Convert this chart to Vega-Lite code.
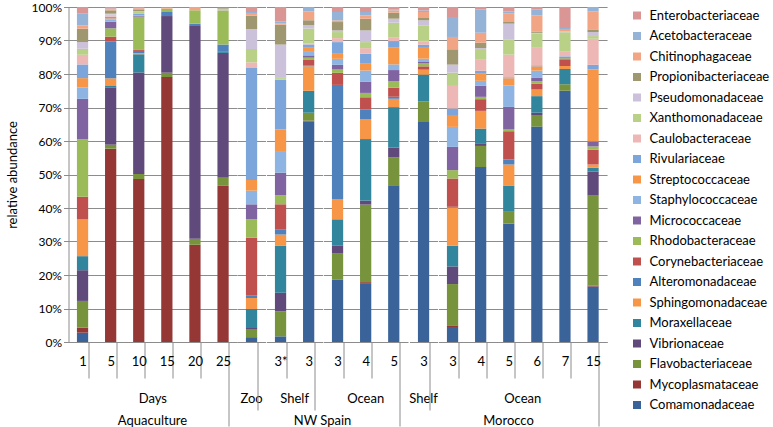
{
  "$schema": "https://vega.github.io/schema/vega-lite/v6.json",
  "background": "white",
  "padding": {"left": 6.5, "top": 1, "right": 0, "bottom": 0},
  "config": {
    "font": "Lato",
    "view": {"stroke": null},
    "concat": {"spacing": 0},
    "facet": {"spacing": 0},
    "axis": {"labelFont": "Lato", "labelColor": "#000", "titleFont": "Lato", "titleColor": "#000", "titleFontWeight": "normal", "domainColor": "#8c8c8c", "tickColor": "#8c8c8c", "gridColor": "#8c8c8c", "gridOpacity": 1},
    "header": {"labelFont": "Lato", "labelFontSize": 13, "labelColor": "#000", "titleFont": "Lato", "titleFontSize": 13, "titleFontWeight": "normal", "titleColor": "#000", "labelOrient": "bottom", "titleOrient": "bottom", "labelPadding": 51, "titlePadding": -1},
    "legend": {"labelFont": "Lato", "labelFontSize": 13, "labelColor": "#000", "symbolType": "square", "symbolSize": 64, "symbolStrokeWidth": 0, "rowPadding": 6.5, "padding": 2, "offset": 21, "labelOffset": 6}
  },
  "data": {"values": [
    {"r":"Aquaculture","g":"Days","id":"A|Days|1","Comamonadaceae":2.8,"Mycoplasmataceae":1.5,"Flavobacteriaceae":8,"Vibrionaceae":9.2,"Moraxellaceae":4.2,"Sphingomonadaceae":11,"Alteromonadaceae":0,"Corynebacteriaceae":6.8,"Rhodobacteraceae":17.2,"Micrococcaceae":12.1,"Staphylococcaceae":3.4,"Streptococcaceae":2.8,"Rivulariaceae":4.1,"Caulobacteraceae":2.9,"Xanthomonadaceae":1.8,"Pseudomonadaceae":2,"Propionibacteriaceae":4,"Chitinophagaceae":1,"Acetobacteraceae":3.5,"Enterobacteriaceae":2},
    {"r":"Aquaculture","g":"Days","id":"A|Days|5","Comamonadaceae":0,"Mycoplasmataceae":58,"Flavobacteriaceae":1.2,"Vibrionaceae":17.2,"Moraxellaceae":0.4,"Sphingomonadaceae":2.3,"Alteromonadaceae":11,"Corynebacteriaceae":1.5,"Rhodobacteraceae":2.5,"Micrococcaceae":2,"Staphylococcaceae":0.7,"Streptococcaceae":0.3,"Rivulariaceae":0.5,"Caulobacteraceae":0.3,"Xanthomonadaceae":0.3,"Pseudomonadaceae":0.3,"Propionibacteriaceae":1,"Chitinophagaceae":0.3,"Acetobacteraceae":0.2,"Enterobacteriaceae":0.5},
    {"r":"Aquaculture","g":"Days","id":"A|Days|10","Comamonadaceae":0,"Mycoplasmataceae":49,"Flavobacteriaceae":1.5,"Vibrionaceae":30.5,"Moraxellaceae":5.5,"Sphingomonadaceae":0.3,"Alteromonadaceae":0.7,"Corynebacteriaceae":0.3,"Rhodobacteraceae":10,"Micrococcaceae":0.3,"Staphylococcaceae":0.2,"Streptococcaceae":0,"Rivulariaceae":0.3,"Caulobacteraceae":0.3,"Xanthomonadaceae":0.3,"Pseudomonadaceae":0.3,"Propionibacteriaceae":0.5,"Chitinophagaceae":0.3,"Acetobacteraceae":0,"Enterobacteriaceae":0.4},
    {"r":"Aquaculture","g":"Days","id":"A|Days|15","Comamonadaceae":0,"Mycoplasmataceae":79.1,"Flavobacteriaceae":1.3,"Vibrionaceae":16.9,"Moraxellaceae":0,"Sphingomonadaceae":0,"Alteromonadaceae":1.2,"Corynebacteriaceae":0,"Rhodobacteraceae":1,"Micrococcaceae":0,"Staphylococcaceae":0,"Streptococcaceae":0,"Rivulariaceae":0,"Caulobacteraceae":0,"Xanthomonadaceae":0,"Pseudomonadaceae":0,"Propionibacteriaceae":0,"Chitinophagaceae":0.3,"Acetobacteraceae":0,"Enterobacteriaceae":0.2},
    {"r":"Aquaculture","g":"Days","id":"A|Days|20","Comamonadaceae":0,"Mycoplasmataceae":29,"Flavobacteriaceae":1.8,"Vibrionaceae":63.5,"Moraxellaceae":0,"Sphingomonadaceae":0,"Alteromonadaceae":0.7,"Corynebacteriaceae":0,"Rhodobacteraceae":4,"Micrococcaceae":0,"Staphylococcaceae":0,"Streptococcaceae":0,"Rivulariaceae":0,"Caulobacteraceae":0,"Xanthomonadaceae":0,"Pseudomonadaceae":0,"Propionibacteriaceae":0,"Chitinophagaceae":1,"Acetobacteraceae":0,"Enterobacteriaceae":0},
    {"r":"Aquaculture","g":"Days","id":"A|Days|25","Comamonadaceae":0,"Mycoplasmataceae":46.6,"Flavobacteriaceae":2.4,"Vibrionaceae":37.3,"Moraxellaceae":0.5,"Sphingomonadaceae":0,"Alteromonadaceae":2,"Corynebacteriaceae":0,"Rhodobacteraceae":10.2,"Micrococcaceae":0,"Staphylococcaceae":0,"Streptococcaceae":0,"Rivulariaceae":0,"Caulobacteraceae":0,"Xanthomonadaceae":0,"Pseudomonadaceae":0.5,"Propionibacteriaceae":0.5,"Chitinophagaceae":0,"Acetobacteraceae":0,"Enterobacteriaceae":0},
    {"r":"NW Spain","g":"Zoo","id":"N|Zoo|","Comamonadaceae":1.3,"Mycoplasmataceae":0.2,"Flavobacteriaceae":2.2,"Vibrionaceae":0.5,"Moraxellaceae":5.7,"Sphingomonadaceae":3.3,"Alteromonadaceae":0.7,"Corynebacteriaceae":17.4,"Rhodobacteraceae":5.5,"Micrococcaceae":4.5,"Staphylococcaceae":4.1,"Streptococcaceae":3.2,"Rivulariaceae":33.6,"Caulobacteraceae":1.7,"Xanthomonadaceae":4,"Pseudomonadaceae":6,"Propionibacteriaceae":4,"Chitinophagaceae":0.8,"Acetobacteraceae":0.3,"Enterobacteriaceae":1.5},
    {"r":"NW Spain","g":"Shelf","id":"N|Shelf|3*","Comamonadaceae":1.7,"Mycoplasmataceae":0,"Flavobacteriaceae":7.5,"Vibrionaceae":5.6,"Moraxellaceae":14.1,"Sphingomonadaceae":3.4,"Alteromonadaceae":1.6,"Corynebacteriaceae":7.5,"Rhodobacteraceae":2.7,"Micrococcaceae":6.8,"Staphylococcaceae":6.5,"Streptococcaceae":6.5,"Rivulariaceae":14.9,"Caulobacteraceae":0.3,"Xanthomonadaceae":0.5,"Pseudomonadaceae":9.8,"Propionibacteriaceae":6,"Chitinophagaceae":0.3,"Acetobacteraceae":0.7,"Enterobacteriaceae":4.3},
    {"r":"NW Spain","g":"Shelf","id":"N|Shelf|3","Comamonadaceae":66.5,"Mycoplasmataceae":0.3,"Flavobacteriaceae":2.4,"Vibrionaceae":0,"Moraxellaceae":6.6,"Sphingomonadaceae":7.4,"Alteromonadaceae":0.3,"Corynebacteriaceae":1.6,"Rhodobacteraceae":0.7,"Micrococcaceae":0.7,"Staphylococcaceae":1.3,"Streptococcaceae":1.2,"Rivulariaceae":0.8,"Caulobacteraceae":0.3,"Xanthomonadaceae":4.5,"Pseudomonadaceae":1,"Propionibacteriaceae":1.5,"Chitinophagaceae":2.7,"Acetobacteraceae":1,"Enterobacteriaceae":0.3},
    {"r":"NW Spain","g":"Ocean","id":"N|Ocean|3","Comamonadaceae":18.6,"Mycoplasmataceae":0,"Flavobacteriaceae":8,"Vibrionaceae":2.3,"Moraxellaceae":7.8,"Sphingomonadaceae":5.9,"Alteromonadaceae":34.3,"Corynebacteriaceae":3.6,"Rhodobacteraceae":1,"Micrococcaceae":1.4,"Staphylococcaceae":1.8,"Streptococcaceae":1.5,"Rivulariaceae":3.5,"Caulobacteraceae":1.2,"Xanthomonadaceae":1.8,"Pseudomonadaceae":0.5,"Propionibacteriaceae":2.5,"Chitinophagaceae":0.5,"Acetobacteraceae":2.5,"Enterobacteriaceae":1.5},
    {"r":"NW Spain","g":"Ocean","id":"N|Ocean|4","Comamonadaceae":17.6,"Mycoplasmataceae":0.3,"Flavobacteriaceae":23.2,"Vibrionaceae":1.2,"Moraxellaceae":18.4,"Sphingomonadaceae":6,"Alteromonadaceae":2.8,"Corynebacteriaceae":3.7,"Rhodobacteraceae":1.3,"Micrococcaceae":3.4,"Staphylococcaceae":3.3,"Streptococcaceae":2.2,"Rivulariaceae":2.8,"Caulobacteraceae":1.7,"Xanthomonadaceae":1.8,"Pseudomonadaceae":3.5,"Propionibacteriaceae":3.5,"Chitinophagaceae":1,"Acetobacteraceae":1,"Enterobacteriaceae":1.5},
    {"r":"NW Spain","g":"Ocean","id":"N|Ocean|5","Comamonadaceae":47,"Mycoplasmataceae":0,"Flavobacteriaceae":8.3,"Vibrionaceae":3,"Moraxellaceae":12.1,"Sphingomonadaceae":2.5,"Alteromonadaceae":0.6,"Corynebacteriaceae":2.7,"Rhodobacteraceae":2,"Micrococcaceae":3.3,"Staphylococcaceae":1.7,"Streptococcaceae":5,"Rivulariaceae":2,"Caulobacteraceae":1,"Xanthomonadaceae":4.5,"Pseudomonadaceae":1.2,"Propionibacteriaceae":1.8,"Chitinophagaceae":0.7,"Acetobacteraceae":0.2,"Enterobacteriaceae":0.8},
    {"r":"Morocco","g":"Shelf","id":"M|Shelf|3","Comamonadaceae":66,"Mycoplasmataceae":0,"Flavobacteriaceae":6.2,"Vibrionaceae":0,"Moraxellaceae":8,"Sphingomonadaceae":1.5,"Alteromonadaceae":0,"Corynebacteriaceae":1,"Rhodobacteraceae":1,"Micrococcaceae":0.3,"Staphylococcaceae":1,"Streptococcaceae":3.5,"Rivulariaceae":0.7,"Caulobacteraceae":1,"Xanthomonadaceae":4.8,"Pseudomonadaceae":1.5,"Propionibacteriaceae":0.7,"Chitinophagaceae":1.8,"Acetobacteraceae":0.5,"Enterobacteriaceae":1},
    {"r":"Morocco","g":"Ocean","id":"M|Ocean|3","Comamonadaceae":4.5,"Mycoplasmataceae":0.5,"Flavobacteriaceae":12.4,"Vibrionaceae":5.3,"Moraxellaceae":6.2,"Sphingomonadaceae":11.4,"Alteromonadaceae":0.3,"Corynebacteriaceae":8.5,"Rhodobacteraceae":2.5,"Micrococcaceae":7,"Staphylococcaceae":6,"Streptococcaceae":3.3,"Rivulariaceae":2.2,"Caulobacteraceae":6.8,"Xanthomonadaceae":4,"Pseudomonadaceae":2.4,"Propionibacteriaceae":4.6,"Chitinophagaceae":3.7,"Acetobacteraceae":6,"Enterobacteriaceae":3},
    {"r":"Morocco","g":"Ocean","id":"M|Ocean|4","Comamonadaceae":52.4,"Mycoplasmataceae":0,"Flavobacteriaceae":6.3,"Vibrionaceae":0.8,"Moraxellaceae":4.4,"Sphingomonadaceae":5.3,"Alteromonadaceae":0,"Corynebacteriaceae":3.5,"Rhodobacteraceae":0.7,"Micrococcaceae":3.3,"Staphylococcaceae":1.5,"Streptococcaceae":2.3,"Rivulariaceae":0.7,"Caulobacteraceae":3.5,"Xanthomonadaceae":3,"Pseudomonadaceae":0.3,"Propionibacteriaceae":1.6,"Chitinophagaceae":3,"Acetobacteraceae":7,"Enterobacteriaceae":0.7},
    {"r":"Morocco","g":"Ocean","id":"M|Ocean|5","Comamonadaceae":35.6,"Mycoplasmataceae":0,"Flavobacteriaceae":3.5,"Vibrionaceae":0,"Moraxellaceae":7.9,"Sphingomonadaceae":6.3,"Alteromonadaceae":1.5,"Corynebacteriaceae":8.5,"Rhodobacteraceae":0.5,"Micrococcaceae":6.8,"Staphylococcaceae":6.4,"Streptococcaceae":2.2,"Rivulariaceae":0.3,"Caulobacteraceae":6.8,"Xanthomonadaceae":4.6,"Pseudomonadaceae":4.7,"Propionibacteriaceae":0.5,"Chitinophagaceae":2.5,"Acetobacteraceae":0.7,"Enterobacteriaceae":1.3},
    {"r":"Morocco","g":"Ocean","id":"M|Ocean|6","Comamonadaceae":65,"Mycoplasmataceae":0,"Flavobacteriaceae":3.5,"Vibrionaceae":0.7,"Moraxellaceae":5,"Sphingomonadaceae":2,"Alteromonadaceae":0,"Corynebacteriaceae":1.7,"Rhodobacteraceae":0.8,"Micrococcaceae":1,"Staphylococcaceae":2.2,"Streptococcaceae":1.3,"Rivulariaceae":0.3,"Caulobacteraceae":5.5,"Xanthomonadaceae":4,"Pseudomonadaceae":0.3,"Propionibacteriaceae":0.3,"Chitinophagaceae":5,"Acetobacteraceae":1.7,"Enterobacteriaceae":0.8},
    {"r":"Morocco","g":"Ocean","id":"M|Ocean|7","Comamonadaceae":75.4,"Mycoplasmataceae":0,"Flavobacteriaceae":1.9,"Vibrionaceae":0,"Moraxellaceae":4.6,"Sphingomonadaceae":0.9,"Alteromonadaceae":0,"Corynebacteriaceae":2,"Rhodobacteraceae":0.3,"Micrococcaceae":0.3,"Staphylococcaceae":0.3,"Streptococcaceae":0,"Rivulariaceae":0,"Caulobacteraceae":1.4,"Xanthomonadaceae":5.8,"Pseudomonadaceae":0.3,"Propionibacteriaceae":0,"Chitinophagaceae":0.7,"Acetobacteraceae":0.3,"Enterobacteriaceae":6.3},
    {"r":"Morocco","g":"Ocean","id":"M|Ocean|15","Comamonadaceae":16.6,"Mycoplasmataceae":0.3,"Flavobacteriaceae":26.9,"Vibrionaceae":7.2,"Moraxellaceae":1.1,"Sphingomonadaceae":1,"Alteromonadaceae":0,"Corynebacteriaceae":4.4,"Rhodobacteraceae":1,"Micrococcaceae":1.5,"Staphylococcaceae":0,"Streptococcaceae":21.5,"Rivulariaceae":1.4,"Caulobacteraceae":7.8,"Xanthomonadaceae":0.8,"Pseudomonadaceae":1.2,"Propionibacteriaceae":0.8,"Chitinophagaceae":5.4,"Acetobacteraceae":1.3,"Enterobacteriaceae":0}
  ]},
  "transform": [
    {"fold": ["Comamonadaceae","Mycoplasmataceae","Flavobacteriaceae","Vibrionaceae","Moraxellaceae","Sphingomonadaceae","Alteromonadaceae","Corynebacteriaceae","Rhodobacteraceae","Micrococcaceae","Staphylococcaceae","Streptococcaceae","Rivulariaceae","Caulobacteraceae","Xanthomonadaceae","Pseudomonadaceae","Propionibacteriaceae","Chitinophagaceae","Acetobacteraceae","Enterobacteriaceae"], "as": ["family","value"]},
    {"window": [{"op": "row_number", "as": "k"}], "groupby": ["id"]}
  ],
  "hconcat": [
    {
      "transform": [{"filter": "datum.r == 'Aquaculture'"}],
      "bounds": "flush",
      "facet": {"column": {"field": "g", "type": "nominal", "header": {"title": "Aquaculture"}}},
      "resolve": {"scale": {"x": "independent"}},
      "spec": {
        "width": {"step": 28.1},
        "height": 335,
        "mark": {"type": "bar"},
        "encoding": {
          "x": {"field": "id", "type": "nominal", "sort": null, "scale": {"paddingInner": 0.6, "paddingOuter": 0.3},
            "axis": {"title": null, "labelExpr": "split(datum.value, '|')[2]", "labelAngle": 0, "labelFontSize": 13, "tickBand": "extent",
              "tickSize": {"condition": [{"test": "datum.extra", "value": 0}, {"test": "datum.value == 'A|Days|25'", "value": 84}], "value": 36},
              "labelPadding": {"condition": [{"test": "datum.extra", "value": -23}, {"test": "datum.value == 'A|Days|25'", "value": -71}], "value": -23}}},
          "y": {"field": "value", "type": "quantitative", "stack": "normalize",
            "axis": {"title": "relative abundance", "titleFontSize": 13, "titlePadding": 11.5, "format": ".0%", "values": [0,0.1,0.2,0.3,0.4,0.5,0.6,0.7,0.8,0.9,1], "labelFontSize": 12, "tickSize": 5, "grid": true}},
          "color": {"field": "family", "type": "nominal", "legend": {"title": null},
            "scale": {"domain": ["Enterobacteriaceae","Acetobacteraceae","Chitinophagaceae","Propionibacteriaceae","Pseudomonadaceae","Xanthomonadaceae","Caulobacteraceae","Rivulariaceae","Streptococcaceae","Staphylococcaceae","Micrococcaceae","Rhodobacteraceae","Corynebacteriaceae","Alteromonadaceae","Sphingomonadaceae","Moraxellaceae","Vibrionaceae","Flavobacteriaceae","Mycoplasmataceae","Comamonadaceae"],
              "range": ["#D99694","#95B3D7","#F2A584","#9E9770","#CCC1DA","#B8D186","#EDB7B5","#7CA6DB","#F79646","#8DB4E2","#8064A2","#9BBB59","#C0504D","#4F81BD","#F79646","#31859C","#604A7B","#77933C","#953735","#3A6399"]}},
          "order": {"field": "k", "type": "quantitative"}
        }
      }
    },
    {
      "transform": [{"filter": "datum.r == 'NW Spain'"}],
      "bounds": "flush",
      "facet": {"column": {"field": "g", "type": "nominal", "sort": ["Zoo","Shelf","Ocean"], "header": {"title": "NW Spain"}}},
      "resolve": {"scale": {"x": "independent"}},
      "spec": {
        "width": {"step": 28.1},
        "height": 335,
        "mark": {"type": "bar"},
        "encoding": {
          "x": {"field": "id", "type": "nominal", "sort": null, "scale": {"paddingInner": 0.6, "paddingOuter": 0.3},
            "axis": {"title": null, "labelExpr": "split(datum.value, '|')[2]", "labelAngle": 0, "labelFontSize": 13, "tickBand": "extent",
              "tickSize": {"condition": [{"test": "datum.extra", "value": 0}, {"test": "datum.value == 'N|Ocean|5'", "value": 84}, {"test": "datum.value == 'N|Zoo|' || datum.value == 'N|Shelf|3'", "value": 68}], "value": 36},
              "labelPadding": {"condition": [{"test": "datum.extra", "value": -23}, {"test": "datum.value == 'N|Ocean|5'", "value": -71}, {"test": "datum.value == 'N|Zoo|' || datum.value == 'N|Shelf|3'", "value": -55}], "value": -23}}},
          "y": {"field": "value", "type": "quantitative", "stack": "normalize",
            "axis": {"title": null, "labels": false, "ticks": false, "domain": false, "minExtent": 0, "maxExtent": 0, "values": [0,0.1,0.2,0.3,0.4,0.5,0.6,0.7,0.8,0.9,1], "grid": true}},
          "color": {"field": "family", "type": "nominal", "legend": {"title": null}},
          "order": {"field": "k", "type": "quantitative"}
        }
      }
    },
    {
      "transform": [{"filter": "datum.r == 'Morocco'"}],
      "bounds": "flush",
      "facet": {"column": {"field": "g", "type": "nominal", "sort": ["Shelf","Ocean"], "header": {"title": "Morocco"}}},
      "resolve": {"scale": {"x": "independent"}},
      "spec": {
        "width": {"step": 28.1},
        "height": 335,
        "mark": {"type": "bar"},
        "encoding": {
          "x": {"field": "id", "type": "nominal", "sort": null, "scale": {"paddingInner": 0.6, "paddingOuter": 0.3},
            "axis": {"title": null, "labelExpr": "split(datum.value, '|')[2]", "labelAngle": 0, "labelFontSize": 13, "tickBand": "extent",
              "tickSize": {"condition": [{"test": "datum.extra", "value": 0}, {"test": "datum.value == 'M|Ocean|15'", "value": 84}, {"test": "datum.value == 'M|Shelf|3'", "value": 68}], "value": 36},
              "labelPadding": {"condition": [{"test": "datum.extra", "value": -23}, {"test": "datum.value == 'M|Ocean|15'", "value": -71}, {"test": "datum.value == 'M|Shelf|3'", "value": -55}], "value": -23}}},
          "y": {"field": "value", "type": "quantitative", "stack": "normalize",
            "axis": {"title": null, "labels": false, "ticks": false, "domain": false, "minExtent": 0, "maxExtent": 0, "values": [0,0.1,0.2,0.3,0.4,0.5,0.6,0.7,0.8,0.9,1], "grid": true}},
          "color": {"field": "family", "type": "nominal", "legend": {"title": null}},
          "order": {"field": "k", "type": "quantitative"}
        }
      }
    }
  ]
}
